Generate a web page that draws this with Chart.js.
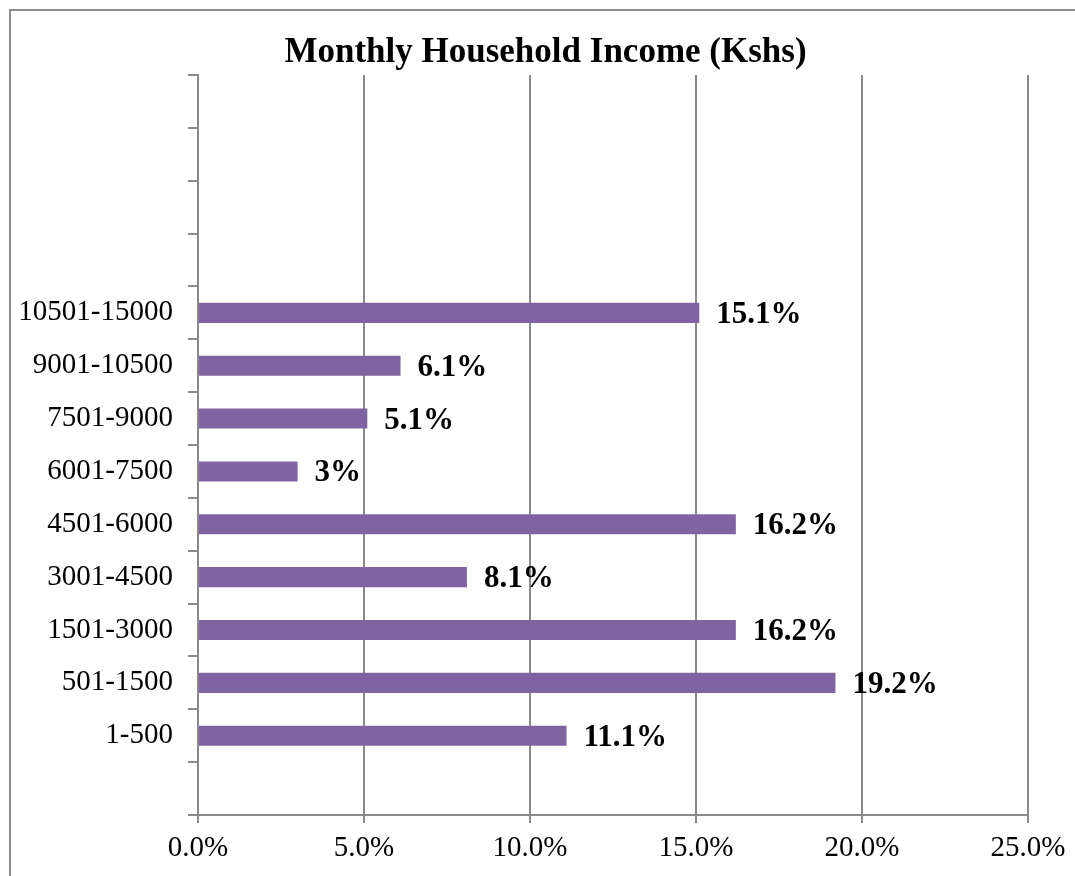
<!DOCTYPE html>
<html>
<head>
<meta charset="utf-8">
<script src="https://cdn.jsdelivr.net/npm/chart.js@4"></script>
<style>
  html, body { margin: 0; padding: 0; background: #ffffff; overflow: hidden; }
  #frame { position: absolute; left: 9px; top: 9px; width: 1100px; height: 900px; border: 2.5px solid #8c8c8c; box-sizing: border-box; }
  #wrap { position: absolute; left: 0; top: 0; width: 1075px; height: 876px; }
</style>
</head>
<body>
<div id="frame"></div>
<div id="wrap"><canvas id="c" width="1075" height="876"></canvas></div>
<script>
// Income categories, top to bottom (blank slots are empty category positions on the axis)
const categories = ['', ' ', '  ', '   ', '10501-15000', '9001-10500', '7501-9000', '6001-7500', '4501-6000', '3001-4500', '1501-3000', '501-1500', '1-500', '    '];
// Percent of households per category
const percentValues = [null, null, null, null, 15.1, 6.1, 5.1, 3, 16.2, 8.1, 16.2, 19.2, 11.1, null];
// Value-axis tick values
const xTickValues = [0, 5, 10, 15, 20, 25];

const serif = '"Liberation Serif", "Times New Roman", serif';
const gridGray = '#8a8a8a';

const valueLabels = {
  id: 'valueLabels',
  afterDatasetsDraw(chart) {
    const ctx = chart.ctx;
    const meta = chart.getDatasetMeta(0);
    ctx.save();
    ctx.font = 'bold 31px ' + serif;
    ctx.fillStyle = '#000000';
    ctx.textAlign = 'left';
    ctx.textBaseline = 'middle';
    meta.data.forEach((bar, i) => {
      const v = percentValues[i];
      if (v === null || v === undefined) return;
      const txt = (Number.isInteger(v) ? String(v) : v.toFixed(1)) + '%';
      ctx.fillText(txt, bar.x + 17, bar.y + 2);
    });
    ctx.restore();
  }
};

// Centre the title over the frame rather than over the full canvas
const titleShift = {
  id: 'titleShift',
  afterLayout(chart) {
    const t = chart.titleBlock;
    if (t) { t.left = 63; t.right = 1028; }
  }
};

new Chart(document.getElementById('c'), {
  type: 'bar',
  data: {
    labels: categories,
    datasets: [{
      data: percentValues,
      backgroundColor: '#8064A2',
      borderWidth: 0,
      categoryPercentage: 1,
      barPercentage: 0.38
    }]
  },
  options: {
    indexAxis: 'y',
    responsive: false,
    animation: false,
    devicePixelRatio: 1,
    layout: { padding: { left: 0, right: 47, top: 0, bottom: 0 } },
    plugins: {
      legend: { display: false },
      tooltip: { enabled: false },
      title: {
        display: true,
        text: 'Monthly Household Income (Kshs)',
        color: '#000000',
        font: { family: serif, size: 35, weight: 'bold', lineHeight: 1.2 },
        padding: { top: 32, bottom: 1 }
      }
    },
    scales: {
      x: {
        type: 'linear',
        min: 0,
        max: 25,
        afterBuildTicks(scale) { scale.ticks = xTickValues.map(v => ({ value: v })); },
        afterFit(scale) { scale.height = 61; },
        ticks: {
          color: '#000000',
          padding: 8,
          font: { family: serif, size: 29 },
          callback: v => Number(v).toFixed(1) + '%'
        },
        grid: { color: gridGray, lineWidth: 2, tickLength: 8, drawOnChartArea: true, drawTicks: true },
        border: { color: gridGray, width: 2 }
      },
      y: {
        type: 'category',
        afterFit(scale) { scale.width = 198; },
        ticks: {
          color: '#000000',
          padding: 15,
          autoSkip: false,
          font: { family: serif, size: 29 }
        },
        grid: { color: gridGray, lineWidth: 2, tickLength: 10, drawOnChartArea: false, drawTicks: true, offset: true },
        border: { color: gridGray, width: 2 }
      }
    }
  },
  plugins: [valueLabels, titleShift]
});
</script>
</body>
</html>
